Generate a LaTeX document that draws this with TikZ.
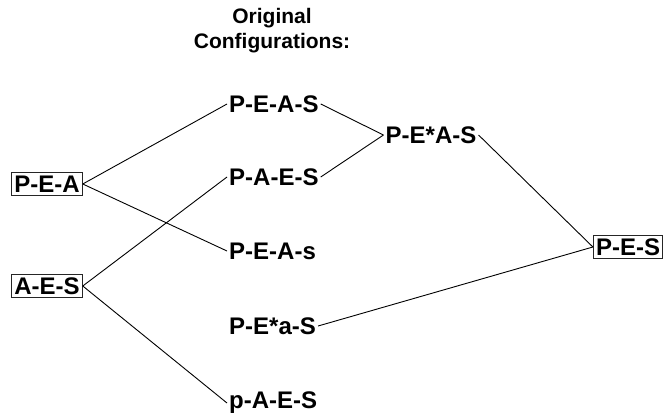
\documentclass[tikz,border=0pt]{standalone}
\usepackage{fontspec}
\setmainfont{Liberation Sans}
\begin{document}
\begin{tikzpicture}[x=1pt,y=-1pt,
  lbl/.style={font=\fontsize{24}{27}\selectfont\bfseries, inner sep=2pt},
  boxed/.style={lbl, draw=black!85, line width=1.2pt, inner xsep=2.5pt, inner ysep=3pt},
  conn/.style={draw=black, line width=0.9pt}]
\useasboundingbox (0,0) rectangle (668,419);
\node[font=\fontsize{21}{25}\selectfont\bfseries, align=center] (title) at (272,31) {Original\\Configurations:};
\node[boxed] (pea) at (47,184) {P-E-A};
\node[boxed] (aes) at (47,286) {A-E-S};
\node[lbl, anchor=west] (peas) at (227,104) {P-E-A-S};
\node[lbl, anchor=west] (paes) at (227,177) {P-A-E-S};
\node[lbl, anchor=west] (peasl) at (227,251) {P-E-A-s};
\node[lbl, anchor=west] (pestar) at (227,326) {P-E*a-S};
\node[lbl, anchor=west] (lpaes) at (227,403) {p-A-E-S};
\node[lbl] (pesas) at (431,135) {P-E*A-S};
\node[boxed] (pes) at (628,247) {P-E-S};
\draw[conn] (pea.east) -- (peas.west);
\draw[conn] (pea.east) -- (peasl.west);
\draw[conn] (aes.east) -- (paes.west);
\draw[conn] (aes.east) -- (lpaes.west);
\draw[conn] (peas.east) -- (pesas.west);
\draw[conn] (paes.east) -- (pesas.west);
\draw[conn] (pesas.east) -- (pes.west);
\draw[conn] (pestar.east) -- (pes.west);
\end{tikzpicture}
\end{document}
